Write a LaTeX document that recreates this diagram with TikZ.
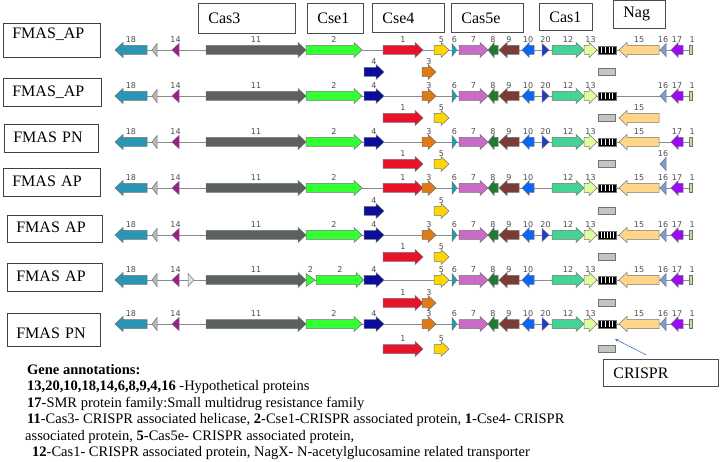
\documentclass[tikz,border=0pt]{standalone}
\usepackage{xcolor}
\usepackage{tikz}
\usepackage{fontspec}
\setmainfont{Liberation Serif}
\newfontfamily\genefont{DejaVu Sans}

\definecolor{mau18}{HTML}{2B95B5}
\definecolor{mauxam}{HTML}{B8B8B8}
\definecolor{mau14}{HTML}{9E1A8E}
\definecolor{mau11}{HTML}{5C6060}
\definecolor{mau2}{HTML}{33FF33}
\definecolor{mau1}{HTML}{E8132B}
\definecolor{mau5}{HTML}{FFD700}
\definecolor{mau6}{HTML}{12A5AE}
\definecolor{mau7}{HTML}{C86CC8}
\definecolor{mau8}{HTML}{1F7A32}
\definecolor{mau9}{HTML}{7D3B35}
\definecolor{mau10}{HTML}{0A66F5}
\definecolor{mau20}{HTML}{1E3CC8}
\definecolor{mau12}{HTML}{45D295}
\definecolor{mau13}{HTML}{DFFF9E}
\definecolor{mau15}{HTML}{FFD58A}
\definecolor{mau16}{HTML}{7F9BD2}
\definecolor{mau17}{HTML}{9A0BF2}
\definecolor{mau4}{HTML}{0B0B9C}
\definecolor{mau3}{HTML}{DF7A14}
\definecolor{mauhop}{HTML}{C4C4C4}
\definecolor{mauxanh}{HTML}{B8E68A}
\definecolor{mauten}{HTML}{4472C4}

% gen: duoi, mui, y, mau, nhan
\newcommand{\gene}[5]{%
  \pgfmathsetmacro{\hd}{((#2)>(#1) ? 1 : -1)*min(8,0.6*abs((#2)-(#1)))}
  \draw[gen,fill=#4] (#1,#3-4.5) -- ({#2-(\hd)},#3-4.5) -- ({#2-(\hd)},#3-7.5) -- (#2,#3)
    -- ({#2-(\hd)},#3+7.5) -- ({#2-(\hd)},#3+4.5) -- (#1,#3+4.5) -- cycle;
  \draw ({(#1+#2)/2},#3-10.5) node[nhan] {#5};}
% tam giac: day, dinh, y, mau, nhan
\newcommand{\tri}[5]{%
  \draw[gen,fill=#4] (#1,#3-6.5) -- (#2,#3) -- (#1,#3+6.5) -- cycle;
  \draw ({(#1+#2)/2},#3-10.5) node[nhan] {#5};}
\newcommand{\crispr}[2]{%
  \draw[gen,fill=black] (598,#1-4) rectangle (616,#1+4);
  \foreach \s in {#2} \draw[white,line width=0.9pt] (\s,#1-3.3) -- (\s,#1+3.3);}
\newcommand{\hop}[1]{\draw[gen,fill=mauhop] (598,#1-3.5) rectangle (615,#1+3.5);}

\begin{document}
\begin{tikzpicture}[x=1pt,y=-1pt,
    gen/.style={draw=black!55,line width=0.5pt},
    nhan/.style={font=\genefont\fontsize{8}{8}\selectfont,text=black!70,inner sep=0pt},
    truc/.style={draw=black!45,line width=0.7pt},
    tieude/.style={draw=black!70,line width=0.7pt,anchor=north west,inner xsep=10pt,inner ysep=2pt,
      align=left,font=\fontsize{16}{16}\selectfont},
    chung/.style={draw=black!75,line width=0.7pt,anchor=north west,inner xsep=9pt,inner ysep=4.5pt,
      text height=11pt,text depth=3pt,minimum height=28pt,align=left,font=\fontsize{16}{16}\selectfont},
    ghichu/.style={anchor=base west,inner sep=0pt,font=\fontsize{14.5}{15}\selectfont}]
  \useasboundingbox (0,0) rectangle (720,462);

  % Ve cac khung tieu de
  \node[tieude,text width=77pt,minimum height=30pt] (cas3) at (198,3) {Cas3};
  \node[tieude,text width=36pt,minimum height=30pt] (cse1) at (307,3) {Cse1};
  \node[tieude,text width=52pt,minimum height=29pt] (cse4) at (372,3) {Cse4};
  \node[tieude,text width=52pt,minimum height=29pt] (cas5e) at (451,3) {Cas5e};
  \node[tieude,text width=33pt,minimum height=27pt] (cas1) at (539,3) {Cas1};
  \node[tieude,text width=32pt,minimum height=28pt] (nag) at (613,0) {Nag};

  % Ve nhan chung
  \node[chung,text width=79pt,text depth=14pt] (hang1) at (3,23) {FMAS\_AP};
  \node[chung,text width=80pt] (hang2) at (3,78) {FMAS\_AP};
  \node[chung,text width=76pt] (hang3) at (4,124) {FMAS PN};
  \node[chung,text width=79pt] (hang4) at (3,168) {FMAS AP};
  \node[chung,text width=77pt,minimum height=27pt] (hang5) at (7,215) {FMAS AP};
  \node[chung,text width=77pt] (hang6) at (7,263) {FMAS AP};
  \node[chung,text width=75pt,text height=21pt] (hang7) at (7,313) {FMAS PN};

  % Ve cac gen chung cho moi hang
  \foreach \y/\s in {50/72,96/118,142/164,188/211,235/257,280/303,324/349} {
    \draw[truc] (147,\y) -- (692,\y);
    \gene{147}{115}{\y}{mau18}{18}
    \tri{157}{152}{\y}{mauxam}{}
    \tri{179}{172}{\y}{mau14}{14}
    \gene{206}{306}{\y}{mau11}{11}
    \tri{452}{457}{\y}{mau6}{6}
    \gene{459}{488}{\y}{mau7}{7}
    \gene{498}{488}{\y}{mau8}{8}
    \gene{519}{499}{\y}{mau9}{9}
    \gene{534}{522}{\y}{mau10}{10}
    \gene{552}{584}{\y}{mau12}{12}
    \gene{584}{597}{\y}{mau13}{13}
    \gene{683}{671}{\y}{mau17}{17}
    \draw[gen,fill=mauxanh] (689.5,\y-4.5) rectangle (692,\y+4.5);
    \draw (689.5,\y-10.5) node[nhan,anchor=west] {1};
    \hop{\s}
  }
  \foreach \y in {50,96,142,188,280,324} \crispr{\y}{601.5,605.5,609,612.5};
  \crispr{235}{601,604,607,610,613}

  % Cac gen thay doi theo hang
  \foreach \y in {50,96,142,188,235,324} \gene{306}{362}{\y}{mau2}{2};
  \tri{188}{194}{280}{black!12}{}
  \tri{306}{315}{280}{mau2}{2}
  \gene{316}{364}{280}{mau2}{2}
  \foreach \y in {72,96,142,211,235,280,324} \gene{364}{384}{\y}{mau4}{4};
  \foreach \y in {50,118,164,188,257,303,349} \gene{383}{423}{\y}{mau1}{1};
  \foreach \y in {72,96,142,188,235,303,324} \gene{422}{436}{\y}{mau3}{3};
  \foreach \y in {50,118,164,211,257,280,349} \gene{434}{449}{\y}{mau5}{5};
  \foreach \y in {50,96,142,235,324} \tri{542}{549}{\y}{mau20}{20};
  \foreach \y in {50,118,142,188,235,280,324} \gene{659}{619}{\y}{mau15}{15};
  \foreach \y in {50,96,164,188,235,280,324} \tri{666}{660}{\y}{mau16}{16};

  % Chu thich CRISPR
  \node[draw=black!70,line width=0.7pt,anchor=north west,minimum width=115pt,minimum height=27pt,
    text width=95pt,inner xsep=10pt,align=left,font=\fontsize{16}{16}\selectfont] (crispr) at (603,359) {CRISPR};
  \coordinate (mang7) at (615,339);
  \draw[mauten,line width=0.6pt,-stealth] ([shift={(-14.5,-4)}]crispr.north) -- (mang7);

  % Ghi chu gen
  \node[ghichu] (g1) at (27,374) {\textbf{Gene annotations:}};
  \node[ghichu] (g2) at (27,390.5) {\textbf{13,20,10,18,14,6,8,9,4,16} -Hypothetical proteins};
  \node[ghichu] (g3) at (27,407) {\textbf{17}-SMR protein family:Small multidrug resistance family};
  \node[ghichu] (g4) at (27,423.5) {\textbf{11}-Cas3- CRISPR associated helicase, \textbf{2}-Cse1-CRISPR associated protein, \textbf{1}-Cse4- CRISPR};
  \node[ghichu] (g5) at (25,440) {associated protein, \textbf{5}-Cas5e- CRISPR associated protein,};
  \node[ghichu] (g6) at (32,456.5) {\textbf{12}-Cas1- CRISPR associated protein, NagX- N-acetylglucosamine related transporter};
\end{tikzpicture}
\end{document}
